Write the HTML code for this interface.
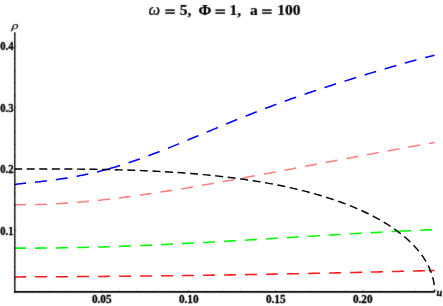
<!DOCTYPE html>
<html><head><meta charset="utf-8"><title>plot</title>
<style>
html,body{margin:0;padding:0;background:#fff;}
svg{display:block;}
text{font-family:"Liberation Serif",serif;font-weight:bold;fill:#000;stroke:#000;stroke-width:0.32px;}
.ttl text{stroke-width:0.22px;}
</style></head><body>
<svg width="443" height="306" viewBox="0 0 443 306">
<defs><filter id="soft" x="0" y="0" width="443" height="306" filterUnits="userSpaceOnUse" color-interpolation-filters="sRGB"><feConvolveMatrix order="3" kernelMatrix="0.0081 0.0738 0.0081 0.0738 0.6724 0.0738 0.0081 0.0738 0.0081" divisor="1" edgeMode="duplicate" preserveAlpha="false"/></filter></defs>
<rect width="443" height="306" fill="#fff"/>
<g fill="none" stroke-linecap="butt" stroke-linejoin="round" >
<path d="M14.75 276.93 L17.79 276.92 L20.84 276.90 L23.88 276.89 L26.92 276.88 L29.97 276.87 L33.01 276.85 L36.05 276.84 L39.09 276.83 L42.14 276.81 L45.18 276.80 L48.22 276.78 L51.27 276.76 L54.31 276.75 L57.35 276.73 L60.40 276.71 L63.44 276.69 L66.48 276.67 L69.52 276.65 L72.57 276.63 L75.61 276.61 L78.65 276.59 L81.70 276.57 L84.74 276.55 L87.78 276.53 L90.83 276.50 L93.87 276.48 L96.91 276.45 L99.95 276.43 L103.00 276.40 L106.04 276.38 L109.08 276.35 L112.13 276.32 L115.17 276.30 L118.21 276.27 L121.26 276.24 L124.30 276.21 L127.34 276.18 L130.38 276.15 L133.43 276.12 L136.47 276.09 L139.51 276.06 L142.56 276.03 L145.60 275.99 L148.64 275.96 L151.69 275.93 L154.73 275.89 L157.77 275.86 L160.81 275.82 L163.86 275.78 L166.90 275.75 L169.94 275.71 L172.99 275.67 L176.03 275.64 L179.07 275.60 L182.12 275.56 L185.16 275.52 L188.20 275.48 L191.24 275.44 L194.29 275.40 L197.33 275.35 L200.37 275.31 L203.42 275.27 L206.46 275.22 L209.50 275.18 L212.55 275.14 L215.59 275.09 L218.63 275.05 L221.68 275.00 L224.72 274.95 L227.76 274.91 L230.80 274.86 L233.85 274.81 L236.89 274.76 L239.93 274.71 L242.98 274.66 L246.02 274.61 L249.06 274.56 L252.11 274.51 L255.15 274.46 L258.19 274.41 L261.23 274.35 L264.28 274.30 L267.32 274.25 L270.36 274.19 L273.41 274.14 L276.45 274.08 L279.49 274.02 L282.54 273.97 L285.58 273.91 L288.62 273.85 L291.66 273.79 L294.71 273.74 L297.75 273.68 L300.79 273.62 L303.84 273.56 L306.88 273.50 L309.92 273.43 L312.97 273.37 L316.01 273.31 L319.05 273.25 L322.09 273.18 L325.14 273.12 L328.18 273.05 L331.22 272.99 L334.27 272.92 L337.31 272.86 L340.35 272.79 L343.40 272.72 L346.44 272.66 L349.48 272.59 L352.52 272.52 L355.57 272.45 L358.61 272.38 L361.65 272.31 L364.70 272.24 L367.74 272.17 L370.78 272.09 L373.83 272.02 L376.87 271.95 L379.91 271.87 L382.95 271.80 L386.00 271.73 L389.04 271.65 L392.08 271.58 L395.13 271.50 L398.17 271.42 L401.21 271.34 L404.26 271.27 L407.30 271.19 L410.34 271.11 L413.38 271.03 L416.43 270.95 L419.47 270.87 L422.51 270.79 L425.56 270.71 L428.60 270.63" stroke="#ff1a1a" stroke-width="1.55" stroke-dasharray="12.0 9.0" stroke-dashoffset="0.65"/>
<path d="M428.60 270.63 L429.15 270.61 L429.69 270.60 L430.24 270.58 L430.78 270.57 L431.33 270.55 L431.87 270.54 L432.42 270.52 L432.96 270.51 L433.51 270.49 L434.05 270.48 L434.60 270.46" stroke="#ff1a1a" stroke-width="1.55" stroke-dasharray="12.0 9.0" stroke-dashoffset="0.00"/>
<path d="M14.75 248.11 L17.78 248.13 L20.80 248.14 L23.83 248.14 L26.86 248.14 L29.89 248.14 L32.91 248.13 L35.94 248.12 L38.97 248.11 L41.99 248.09 L45.02 248.06 L48.05 248.04 L51.08 248.00 L54.10 247.97 L57.13 247.93 L60.16 247.89 L63.18 247.84 L66.21 247.79 L69.24 247.74 L72.27 247.68 L75.29 247.62 L78.32 247.56 L81.35 247.49 L84.37 247.42 L87.40 247.35 L90.43 247.27 L93.46 247.19 L96.48 247.10 L99.51 247.02 L102.54 246.93 L105.56 246.83 L108.59 246.74 L111.62 246.64 L114.65 246.54 L117.67 246.43 L120.70 246.33 L123.73 246.22 L126.76 246.11 L129.78 245.99 L132.81 245.87 L135.84 245.75 L138.86 245.63 L141.89 245.50 L144.92 245.38 L147.95 245.25 L150.97 245.12 L154.00 244.98 L157.03 244.85 L160.05 244.71 L163.08 244.57 L166.11 244.42 L169.14 244.28 L172.16 244.13 L175.19 243.98 L178.22 243.83 L181.24 243.68 L184.27 243.53 L187.30 243.37 L190.33 243.22 L193.35 243.06 L196.38 242.90 L199.41 242.73 L202.43 242.57 L205.46 242.41 L208.49 242.24 L211.52 242.07 L214.54 241.91 L217.57 241.74 L220.60 241.56 L223.62 241.39 L226.65 241.22 L229.68 241.05 L232.71 240.87 L235.73 240.70 L238.76 240.52 L241.79 240.34 L244.81 240.16 L247.84 239.98 L250.87 239.80 L253.90 239.62 L256.92 239.44 L259.95 239.26 L262.98 239.08 L266.00 238.90 L269.03 238.72 L272.06 238.53 L275.09 238.35 L278.11 238.17 L281.14 237.98 L284.17 237.80 L287.19 237.62 L290.22 237.43 L293.25 237.25 L296.28 237.07 L299.30 236.88 L302.33 236.70 L305.36 236.52 L308.39 236.33 L311.41 236.15 L314.44 235.97 L317.47 235.79 L320.49 235.61 L323.52 235.42 L326.55 235.24 L329.58 235.06 L332.60 234.89 L335.63 234.71 L338.66 234.53 L341.68 234.35 L344.71 234.18 L347.74 234.00 L350.77 233.83 L353.79 233.66 L356.82 233.48 L359.85 233.31 L362.87 233.14 L365.90 232.98 L368.93 232.81 L371.96 232.64 L374.98 232.48 L378.01 232.32 L381.04 232.15 L384.06 231.99 L387.09 231.83 L390.12 231.68 L393.15 231.52 L396.17 231.37 L399.20 231.22" stroke="#00ff00" stroke-width="1.55" stroke-dasharray="12.0 9.0" stroke-dashoffset="0.65"/>
<path d="M399.20 231.22 L402.42 231.06 L405.64 230.90 L408.85 230.74 L412.07 230.59 L415.29 230.44 L418.51 230.29 L421.73 230.15 L424.95 230.00 L428.16 229.86 L431.38 229.72 L434.60 229.58" stroke="#00ff00" stroke-width="1.55" stroke-dasharray="12.0 9.0" stroke-dashoffset="0.00"/>
<path d="M14.75 204.74 L17.79 204.77 L20.83 204.78 L23.88 204.78 L26.92 204.76 L29.96 204.72 L33.00 204.66 L36.05 204.60 L39.09 204.51 L42.13 204.41 L45.17 204.30 L48.22 204.17 L51.26 204.03 L54.30 203.88 L57.34 203.71 L60.39 203.53 L63.43 203.34 L66.47 203.14 L69.51 202.92 L72.56 202.69 L75.60 202.45 L78.64 202.20 L81.68 201.94 L84.73 201.67 L87.77 201.38 L90.81 201.09 L93.85 200.79 L96.89 200.47 L99.94 200.15 L102.98 199.82 L106.02 199.48 L109.06 199.13 L112.11 198.77 L115.15 198.41 L118.19 198.03 L121.23 197.65 L124.28 197.26 L127.32 196.86 L130.36 196.46 L133.40 196.05 L136.45 195.63 L139.49 195.21 L142.53 194.77 L145.57 194.34 L148.62 193.89 L151.66 193.44 L154.70 192.99 L157.74 192.53 L160.78 192.06 L163.83 191.59 L166.87 191.11 L169.91 190.63 L172.95 190.14 L176.00 189.65 L179.04 189.16 L182.08 188.66 L185.12 188.15 L188.17 187.65 L191.21 187.13 L194.25 186.62 L197.29 186.10 L200.34 185.58 L203.38 185.05 L206.42 184.52 L209.46 183.99 L212.51 183.46 L215.55 182.92 L218.59 182.38 L221.63 181.84 L224.68 181.29 L227.72 180.74 L230.76 180.19 L233.80 179.64 L236.84 179.09 L239.89 178.53 L242.93 177.97 L245.97 177.41 L249.01 176.85 L252.06 176.29 L255.10 175.73 L258.14 175.16 L261.18 174.60 L264.23 174.03 L267.27 173.46 L270.31 172.89 L273.35 172.32 L276.40 171.75 L279.44 171.18 L282.48 170.61 L285.52 170.03 L288.57 169.46 L291.61 168.89 L294.65 168.31 L297.69 167.74 L300.73 167.16 L303.78 166.59 L306.82 166.02 L309.86 165.44 L312.90 164.87 L315.95 164.29 L318.99 163.72 L322.03 163.15 L325.07 162.57 L328.12 162.00 L331.16 161.43 L334.20 160.85 L337.24 160.28 L340.29 159.71 L343.33 159.14 L346.37 158.57 L349.41 158.00 L352.46 157.44 L355.50 156.87 L358.54 156.30 L361.58 155.74 L364.63 155.17 L367.67 154.61 L370.71 154.05 L373.75 153.49 L376.79 152.93 L379.84 152.37 L382.88 151.81 L385.92 151.26 L388.96 150.70 L392.01 150.15 L395.05 149.60 L398.09 149.05 L401.13 148.50 L404.18 147.95 L407.22 147.41 L410.26 146.87 L413.30 146.32 L416.35 145.78 L419.39 145.25 L422.43 144.71 L425.47 144.18 L428.52 143.64 L431.56 143.11 L434.60 142.58" stroke="#ff8080" stroke-width="1.55" stroke-dasharray="12.0 9.0" stroke-dashoffset="0.65"/>
<path d="M14.75 184.43 L17.88 184.06 L21.00 183.70 L24.12 183.35 L27.25 183.01 L30.38 182.68 L33.50 182.34 L36.62 182.00 L39.75 181.65 L42.88 181.29 L46.00 180.93 L49.12 180.55 L52.25 180.15 L55.38 179.73 L58.50 179.30 L61.62 178.84 L64.75 178.37 L67.88 177.86 L71.00 177.34 L74.12 176.79 L77.25 176.21 L80.38 175.60 L83.50 174.97 L86.62 174.31 L89.75 173.62 L92.88 172.90 L96.00 172.16 L99.12 171.38 L102.25 170.58 L105.38 169.75 L108.50 168.90" stroke="#0000ff" stroke-width="1.55" stroke-dasharray="12.0 9.0" stroke-dashoffset="0.65"/>
<path d="M108.50 168.90 L111.55 168.03 L114.60 167.15 L117.64 166.23 L120.69 165.30 L123.74 164.33 L126.79 163.35 L129.83 162.34 L132.88 161.32 L135.93 160.27 L138.98 159.20 L142.02 158.11 L145.07 157.00 L148.12 155.88 L151.17 154.74 L154.21 153.58 L157.26 152.41 L160.31 151.23 L163.36 150.03 L166.41 148.82 L169.45 147.60 L172.50 146.37 L175.55 145.13 L178.60 143.89 L181.64 142.63 L184.69 141.37 L187.74 140.11 L190.79 138.84 L193.83 137.57 L196.88 136.29 L199.93 135.01 L202.98 133.73 L206.03 132.46 L209.07 131.18 L212.12 129.90 L215.17 128.63 L218.22 127.35 L221.26 126.09 L224.31 124.82 L227.36 123.56 L230.41 122.31 L233.45 121.06 L236.50 119.82 L239.55 118.58 L242.60 117.35 L245.64 116.13 L248.69 114.92 L251.74 113.71 L254.79 112.51 L257.84 111.32 L260.88 110.14 L263.93 108.97 L266.98 107.81 L270.03 106.66 L273.07 105.52 L276.12 104.38 L279.17 103.26 L282.22 102.14 L285.26 101.04 L288.31 99.94 L291.36 98.85 L294.41 97.78 L297.46 96.71 L300.50 95.65 L303.55 94.59 L306.60 93.55 L309.65 92.51 L312.69 91.49 L315.74 90.47 L318.79 89.45 L321.84 88.45 L324.88 87.45 L327.93 86.46 L330.98 85.47 L334.03 84.49 L337.07 83.52 L340.12 82.55 L343.17 81.59 L346.22 80.63 L349.27 79.67 L352.31 78.73 L355.36 77.78 L358.41 76.84 L361.46 75.90 L364.50 74.97 L367.55 74.05 L370.60 73.12 L373.65 72.20 L376.69 71.29 L379.74 70.38 L382.79 69.47 L385.84 68.57 L388.89 67.67 L391.93 66.78 L394.98 65.90 L398.03 65.02 L401.08 64.15 L404.12 63.29 L407.17 62.44 L410.22 61.59 L413.27 60.76 L416.31 59.94 L419.36 59.14 L422.41 58.35 L425.46 57.57 L428.50 56.82 L431.55 56.08 L434.60 55.37" stroke="#0000ff" stroke-width="1.55" stroke-dasharray="12.0 9.0" stroke-dashoffset="0.00"/>
<path d="M14.75 168.90 L18.96 168.90 L23.14 168.90 L27.30 168.90 L31.44 168.90 L35.55 168.91 L39.64 168.91 L43.71 168.92 L47.75 168.93 L51.78 168.94 L55.77 168.96 L59.75 168.98 L63.70 169.00 L67.63 169.02 L71.54 169.05 L75.43 169.09 L79.29 169.12 L83.13 169.17 L86.95 169.21 L90.74 169.26 L94.51 169.32 L98.26 169.38 L101.98 169.45 L105.69 169.53 L109.37 169.60 L113.03 169.69 L116.66 169.78 L120.27 169.88 L123.86 169.98 L127.43 170.09 L130.98 170.21 L134.50 170.33 L138.00 170.46 L141.48 170.60 L144.94 170.74 L148.37 170.90 L151.78 171.05 L155.17 171.22 L158.54 171.39 L161.88 171.57 L165.20 171.76 L168.50 171.95 L171.78 172.16 L175.04 172.37 L178.27 172.58 L181.48 172.81 L184.67 173.04 L187.84 173.28 L190.98 173.53 L194.11 173.78 L197.21 174.05 L200.29 174.32 L203.34 174.60 L206.38 174.88 L209.39 175.18 L212.38 175.48 L215.35 175.79 L218.30 176.11 L221.23 176.43 L224.13 176.77 L227.02 177.11 L229.88 177.46 L232.72 177.82 L235.54 178.18 L238.33 178.55 L241.11 178.93 L243.86 179.32 L246.59 179.72 L249.30 180.12 L251.99 180.53 L254.66 180.95 L257.31 181.37 L259.93 181.81 L262.53 182.25 L265.12 182.69 L267.68 183.15 L270.22 183.61 L272.74 184.08 L275.23 184.56 L277.71 185.05 L280.16 185.54 L282.60 186.04 L285.01 186.54 L287.40 187.06 L289.77 187.58 L292.12 188.11 L294.45 188.64 L296.76 189.18 L299.05 189.73 L301.31 190.28 L303.56 190.85 L305.78 191.41 L307.98 191.99 L310.17 192.57 L312.33 193.16 L314.47 193.75 L316.59 194.35 L318.69 194.96 L320.77 195.57 L322.83 196.19 L324.87 196.82 L326.89 197.45 L328.89 198.09 L330.87 198.73 L332.82 199.38 L334.76 200.03 L336.68 200.70 L338.57 201.36 L340.45 202.03 L342.30 202.71 L344.14 203.39 L345.96 204.08 L347.75 204.78 L349.53 205.47 L351.28 206.18 L353.02 206.89 L354.73 207.60 L356.43 208.32 L358.11 209.05 L359.76 209.77 L361.40 210.51 L363.02 211.25 L364.61 211.99 L366.19 212.74 L367.75 213.49 L369.29 214.24 L370.81 215.00 L372.31 215.77 L373.79 216.54 L375.25 217.31 L376.69 218.09 L378.11 218.87 L379.51 219.65 L380.90 220.44 L382.26 221.23 L383.60 222.03 L384.93 222.82 L386.24 223.63 L387.53 224.43 L388.79 225.24 L390.04 226.05 L391.28 226.87 L392.49 227.69 L393.68 228.51 L394.86 229.33 L396.01 230.16 L397.15 230.99 L398.27 231.82 L399.37 232.66 L400.45 233.49 L401.52 234.33 L402.56 235.17 L403.59 236.02 L404.60 236.86 L405.59 237.71 L406.56 238.56 L407.52 239.41 L408.46 240.27 L409.37 241.12 L410.28 241.98 L411.16 242.84 L412.02 243.70 L412.87 244.56 L413.70 245.42 L414.51 246.29 L415.31 247.15 L416.08 248.02 L416.84 248.88 L417.59 249.75 L418.31 250.62 L419.02 251.49 L419.71 252.35 L420.39 253.22 L421.04 254.09 L421.68 254.96 L422.31 255.83 L422.91 256.70 L423.50 257.57 L424.07 258.44 L424.63 259.31 L425.17 260.18 L425.69 261.05 L426.20 261.92 L426.69 262.79 L427.17 263.65 L427.63 264.52 L428.07 265.38 L428.50 266.25 L428.91 267.11 L429.31 267.97 L429.69 268.82 L430.05 269.68 L430.40 270.54 L430.74 271.39 L431.06 272.24 L431.36 273.09 L431.65 273.93 L431.92 274.77 L432.18 275.61 L432.43 276.45 L432.66 277.28 L432.88 278.11 L433.08 278.94 L433.27 279.76 L433.45 280.57 L433.61 281.38 L433.76 282.19 L433.89 282.99 L434.02 283.78 L434.13 284.57 L434.23 285.35 L434.31 286.12 L434.38 286.88 L434.45 287.63 L434.50 288.37 L434.54 289.10 L434.57 289.80 L434.59 290.49 L434.60 291.13 L434.60 291.70" stroke="#000" stroke-width="1.45" stroke-dasharray="8.0 4.58" stroke-dashoffset="0.65"/>
</g>
<g filter="url(#soft)">
<rect x="0" y="0" width="443" height="306" fill="#fff" fill-opacity="0"/>
<g stroke="#000" fill="none">
<path d="M14.8 32.3 V292.7" stroke-width="1.35"/>
<path d="M14 291.85 H434.8" stroke-width="1.85"/>
<path d="M32.15 291.85 v-1.15" stroke-width="0.6"/>
<path d="M49.55 291.85 v-1.15" stroke-width="0.6"/>
<path d="M66.95 291.85 v-1.15" stroke-width="0.6"/>
<path d="M84.35 291.85 v-1.15" stroke-width="0.6"/>
<path d="M101.75 291.85 v-1.45" stroke-width="0.6"/>
<path d="M119.15 291.85 v-1.15" stroke-width="0.6"/>
<path d="M136.55 291.85 v-1.15" stroke-width="0.6"/>
<path d="M153.95 291.85 v-1.15" stroke-width="0.6"/>
<path d="M171.35 291.85 v-1.15" stroke-width="0.6"/>
<path d="M188.75 291.85 v-1.45" stroke-width="0.6"/>
<path d="M206.15 291.85 v-1.15" stroke-width="0.6"/>
<path d="M223.55 291.85 v-1.15" stroke-width="0.6"/>
<path d="M240.95 291.85 v-1.15" stroke-width="0.6"/>
<path d="M258.35 291.85 v-1.15" stroke-width="0.6"/>
<path d="M275.75 291.85 v-1.45" stroke-width="0.6"/>
<path d="M293.15 291.85 v-1.15" stroke-width="0.6"/>
<path d="M310.55 291.85 v-1.15" stroke-width="0.6"/>
<path d="M327.95 291.85 v-1.15" stroke-width="0.6"/>
<path d="M345.35 291.85 v-1.15" stroke-width="0.6"/>
<path d="M362.75 291.85 v-1.45" stroke-width="0.6"/>
<path d="M380.15 291.85 v-1.15" stroke-width="0.6"/>
<path d="M397.55 291.85 v-1.15" stroke-width="0.6"/>
<path d="M414.95 291.85 v-1.15" stroke-width="0.6"/>
<path d="M432.35 291.85 v-1.15" stroke-width="0.6"/>
<path d="M14.75 279.42 h1.0" stroke-width="0.5"/>
<path d="M14.75 267.14 h1.0" stroke-width="0.5"/>
<path d="M14.75 254.86 h1.0" stroke-width="0.5"/>
<path d="M14.75 242.58 h1.0" stroke-width="0.5"/>
<path d="M14.75 230.30 h1.5" stroke-width="0.5"/>
<path d="M14.75 218.02 h1.0" stroke-width="0.5"/>
<path d="M14.75 205.74 h1.0" stroke-width="0.5"/>
<path d="M14.75 193.46 h1.0" stroke-width="0.5"/>
<path d="M14.75 181.18 h1.0" stroke-width="0.5"/>
<path d="M14.75 168.90 h1.5" stroke-width="0.5"/>
<path d="M14.75 156.62 h1.0" stroke-width="0.5"/>
<path d="M14.75 144.34 h1.0" stroke-width="0.5"/>
<path d="M14.75 132.06 h1.0" stroke-width="0.5"/>
<path d="M14.75 119.78 h1.0" stroke-width="0.5"/>
<path d="M14.75 107.50 h1.5" stroke-width="0.5"/>
<path d="M14.75 95.22 h1.0" stroke-width="0.5"/>
<path d="M14.75 82.94 h1.0" stroke-width="0.5"/>
<path d="M14.75 70.66 h1.0" stroke-width="0.5"/>
<path d="M14.75 58.38 h1.0" stroke-width="0.5"/>
<path d="M14.75 46.10 h1.5" stroke-width="0.5"/>
<path d="M14.75 33.82 h1.0" stroke-width="0.5"/>
</g>
<g font-size="12px">
<text transform="translate(101.75 302.8) scale(0.94 1)" text-anchor="middle">0.05</text>
<text transform="translate(188.75 302.8) scale(0.94 1)" text-anchor="middle">0.10</text>
<text transform="translate(275.75 302.8) scale(0.94 1)" text-anchor="middle">0.15</text>
<text transform="translate(362.75 302.8) scale(0.94 1)" text-anchor="middle">0.20</text>
<text transform="translate(13.5 50.10) scale(0.89 1)" text-anchor="end">0.4</text>
<text transform="translate(13.5 111.68) scale(0.89 1)" text-anchor="end">0.3</text>
<text transform="translate(13.5 173.27) scale(0.89 1)" text-anchor="end">0.2</text>
<text transform="translate(13.5 234.85) scale(0.89 1)" text-anchor="end">0.1</text>
<text x="436.6" y="295.7" font-style="italic" font-size="10.4px">u</text>
<text transform="translate(11.6 29.0) skewX(-7) scale(1.1 0.84)" style="font-style:italic;font-weight:normal;font-size:12.5px;stroke-width:0.2px">ρ</text>
</g>
<g font-size="15.5px" class="ttl">
<text x="148.4" y="14.6" style="font-style:italic;font-weight:normal;font-size:16.5px" stroke="#000" stroke-width="0.3">ω</text>
<text x="179.8" y="14.6">5,</text>
<text x="198.6" y="14.6">Φ</text>
<text x="229.6" y="14.6">1,</text>
<text x="250.0" y="14.6">a</text>
<text x="277.2" y="14.6">100</text>
</g>
<g fill="#000">
<rect x="165.2" y="9.4" width="9.6" height="1.5"/><rect x="165.2" y="12.3" width="9.6" height="1.5"/>
<rect x="215.4" y="9.4" width="9.6" height="1.5"/><rect x="215.4" y="12.3" width="9.6" height="1.5"/>
<rect x="262.1" y="9.4" width="9.6" height="1.5"/><rect x="262.1" y="12.3" width="9.6" height="1.5"/>
</g>
</g>
</svg>
</body></html>
